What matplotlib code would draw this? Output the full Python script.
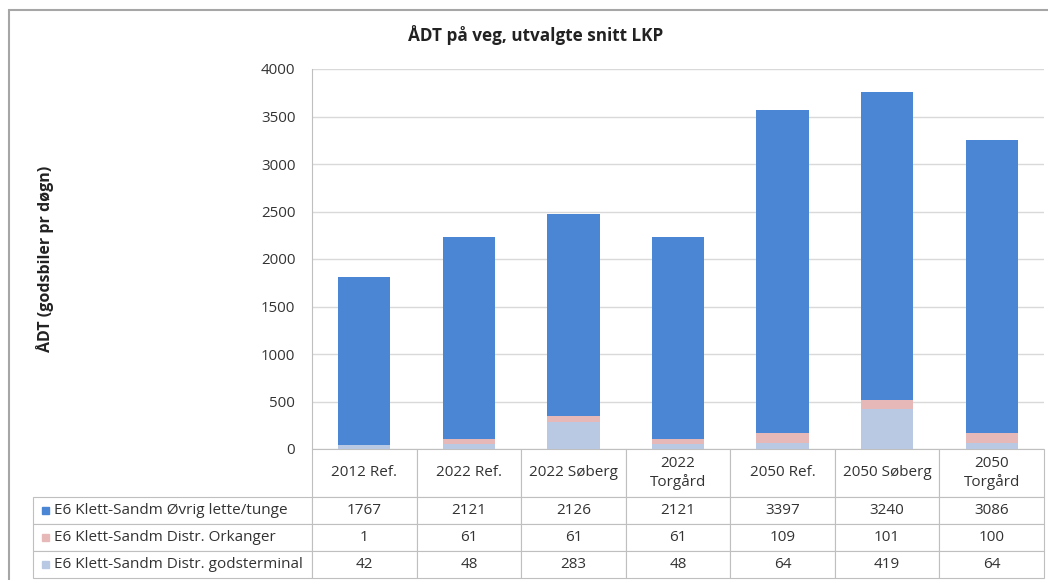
import numpy as np
import matplotlib.pyplot as plt
from matplotlib.patches import Rectangle

categories = ['2012 Ref.', '2022 Ref.', '2022 Søberg', '2022\nTorgård',
              '2050 Ref.', '2050 Søberg', '2050\nTorgård']
series_names = ['E6 Klett-Sandm Øvrig lette/tunge',
                'E6 Klett-Sandm Distr. Orkanger',
                'E6 Klett-Sandm Distr. godsterminal']
ovrig = [1767, 2121, 2126, 2121, 3397, 3240, 3086]
orkanger = [1, 61, 61, 61, 109, 101, 100]
godsterminal = [42, 48, 283, 48, 64, 419, 64]
colors = ['#4a86d4', '#e6b9b8', '#b9c9e3']

plt.rcParams['font.family'] = ['Open Sans', 'DejaVu Sans']

W, H = 1048, 580
fig = plt.figure(figsize=(W / 100, H / 100), dpi=100)
ax = fig.add_axes([312 / W, 131 / H, 732 / W, 380 / H])

# stacked bars, godsterminal at the bottom
x = np.arange(len(categories))
bottom = np.zeros(len(categories))
for vals, color in zip([godsterminal, orkanger, ovrig], colors[::-1]):
    ax.bar(x, vals, 0.5, bottom=bottom, color=color, zorder=2)
    bottom += vals

ax.set_xlim(-0.5, len(categories) - 0.5)
ax.set_ylim(0, 4000)
ax.set_yticks(range(0, 4001, 500))
ax.set_xticks([])
ax.grid(axis='y', color='#d9d9d9', lw=1, zorder=0)
for s in ['top', 'right', 'bottom']:
    ax.spines[s].set_visible(False)
ax.spines['left'].set_color('#bfbfbf')
ax.tick_params(axis='y', length=0, pad=12, labelsize=10.8, labelcolor='#333333')

ax.set_ylabel('ÅDT (godsbiler pr døgn)', fontsize=11.5, fontweight='bold', color='#222222')
ax.yaxis.set_label_coords((54 - 312) / 732, 0.5)

# data table under the plot
lab_w = 279 / 732
head_h, row_h = 48, 27
tab_h = (head_h + 3 * row_h) / 380
cell_text = [[name] + [str(v) for v in vals]
             for name, vals in zip(series_names, [ovrig, orkanger, godsterminal])]
tbl = ax.table(cellText=cell_text, colLabels=[''] + categories,
               colWidths=[lab_w] + [1 / len(categories)] * len(categories),
               cellLoc='center', bbox=[-lab_w, -tab_h, 1 + lab_w, tab_h])
tbl.auto_set_font_size(False)
tbl.set_fontsize(11)
for (r, c), cell in tbl.get_celld().items():
    cell.set_edgecolor('#bfbfbf')
    cell.set_linewidth(0.8)
    cell.set_height(head_h if r == 0 else row_h)
    cell.get_text().set_color('#333333')
    if c == 0:
        if r == 0:
            cell.visible_edges = 'open'
        else:
            cell.PAD = 0.075
            cell.get_text().set_ha('left')

# legend keys in the row label cells
for i, color in enumerate(colors):
    yc = 449 + head_h + row_h * i + row_h / 2
    fig.patches.append(Rectangle((42 / W, 1 - (yc + 3.5) / H), 7 / W, 7 / H,
                                 transform=fig.transFigure, color=color))

fig.text(536 / W, 1 - 35 / H, 'ÅDT på veg, utvalgte snitt LKP', ha='center', va='center',
         fontsize=12.3, fontweight='bold', color='#222222')

# outer chart frame
fig.patches.append(Rectangle((9 / W, -0.1), 1.2, (H - 10) / H + 0.1, transform=fig.transFigure,
                             fill=False, edgecolor='#a6a6a6', lw=1.5))

fig.savefig('out.png', dpi=100)
